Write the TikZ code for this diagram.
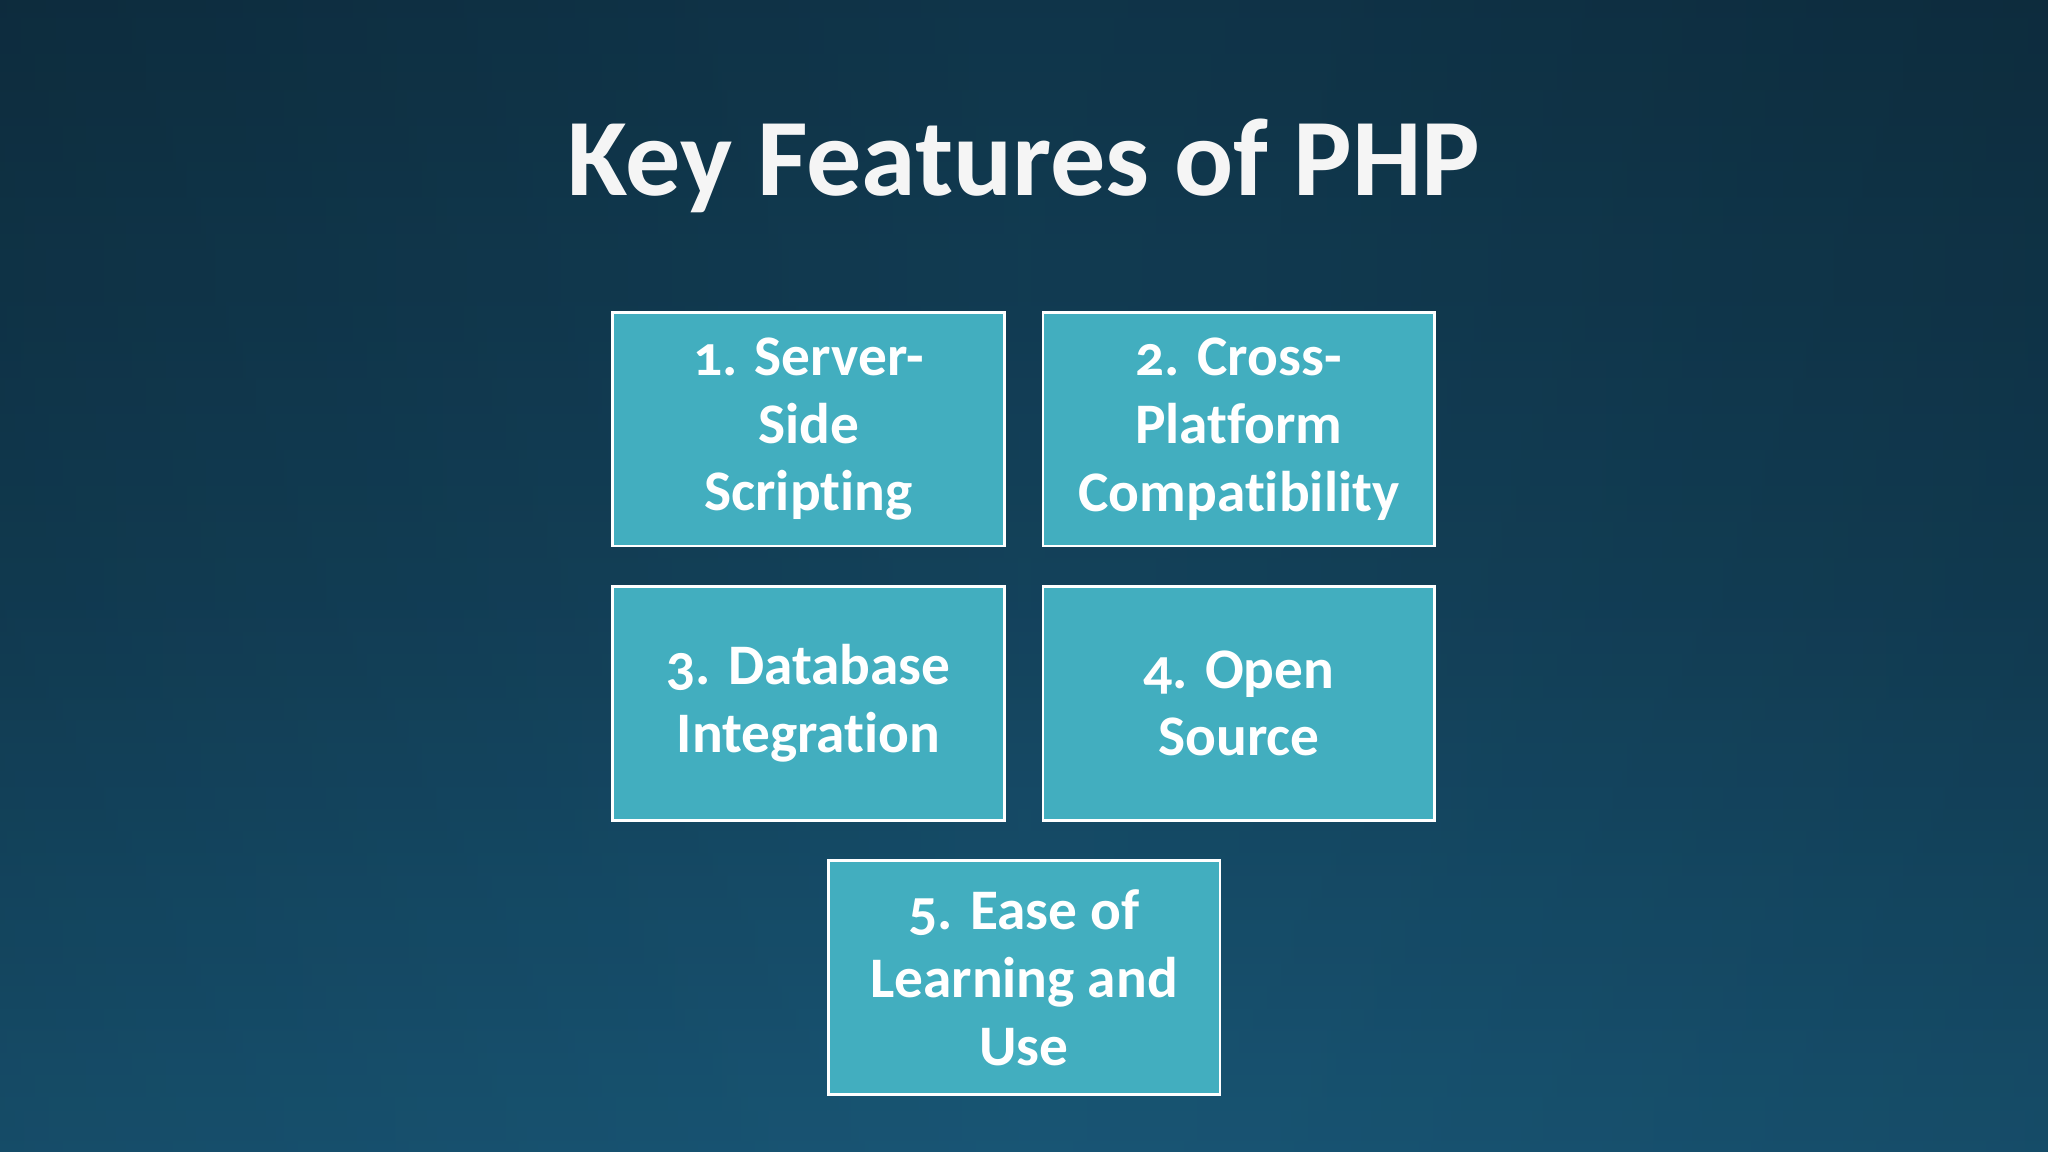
\documentclass[tikz,border=0pt]{standalone}
\usepackage{fontspec}
\setmainfont[Numbers=OldStyle,Ligatures=NoCommon]{Carlito}
\begin{document}
\begin{tikzpicture}[x=0.02cm,y=-0.02cm,
  feat/.style={draw=white,line width=1.2pt,fill=boxc,minimum width=6cm,minimum height=3.58cm,
    align=center,text=white,font=\fontsize{25}{29.5}\selectfont\bfseries,inner sep=0pt}]
\definecolor{boxc}{HTML}{42AEBF}
\definecolor{bgtop}{HTML}{123A50}
\definecolor{bgmid}{HTML}{164A66}
\definecolor{bgbot}{HTML}{1D6488}
\useasboundingbox (0,0) rectangle (1568,882);
\fill[top color=bgtop,bottom color=bgbot,middle color=bgmid] (0,0) rectangle (1568,882);
\fill[left color=black,right color=black,middle color=bgmid,opacity=0.12] (0,0) rectangle (1568,882);
\node[text=white!92!gray,font=\fontsize{48}{55}\selectfont\bfseries] (title) at (784,127) {Key Features of PHP};
\node[feat] (f1) at (619,328.5) {1. Server-\\Side\\Scripting};
\node[feat] (f2) at (948.5,328.5) {2. Cross-\\Platform\\Compatibility};
\node[feat] (f3) at (619,538.5) {3. Database\\Integration};
\node[feat] (f4) at (948.5,538.5) {4. Open\\Source};
\node[feat] (f5) at (784,748.5) {5. Ease of\\Learning and\\Use};
\end{tikzpicture}
\end{document}
